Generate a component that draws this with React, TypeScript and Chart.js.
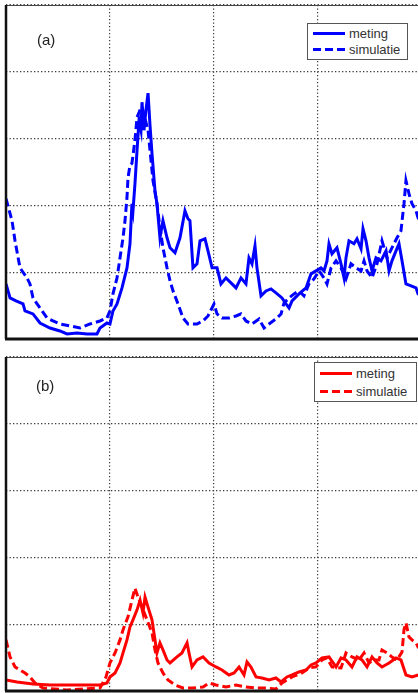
import React, { useEffect, useRef } from "react";
import { Chart, registerables } from "chart.js";

Chart.register(...registerables);

// Axis ranges (no tick labels are shown in the reference, only the grid)
const X_MIN = 0;
const X_MAX = 400;
const X_STEP = 100;
const Y_MIN = 0;
const Y_MAX = 100;
const Y_STEP = 20;

const SERIES_NAMES = ["meting", "simulatie"];
const PANEL_LABELS = ["(a)", "(b)"];

// Panel (a): meting (solid) [x, y]
const metingA: [number, number][] = [
  [0, 16.5], [3.9, 12.3], [9.6, 11.4], [16.4, 10.5], [18.3, 8.4], [26.0, 7.5], [32.8, 4.8],
  [42.4, 3.3], [52.0, 2.4], [58.8, 1.5], [68.4, 1.8], [78.1, 1.5], [87.7, 1.5], [90.6, 3.3],
  [97.3, 4.8], [100.2, 4.5], [103.1, 8.4], [107.0, 10.5], [111.8, 15.3], [116.6, 21.3],
  [119.5, 28.5], [121.4, 40.5], [122.4, 38.4], [124.3, 46.5], [126.3, 56.5], [128.2, 65.5],
  [130.1, 62.5], [131.1, 70.9], [133.0, 62.5], [134.9, 68.5], [136.9, 73.6], [138.8, 64.0],
  [140.7, 55.6], [143.6, 44.4], [145.5, 40.5], [148.4, 30.3], [151.3, 35.4], [155.2, 30.3],
  [158.1, 27.3], [162.9, 25.8], [167.7, 30.3], [172.5, 38.4], [175.4, 36.0], [177.3, 35.4],
  [180.2, 21.3], [184.1, 22.5], [187.0, 29.4], [191.8, 30.0], [194.7, 26.4], [198.6, 21.3],
  [203.4, 21.3], [207.2, 16.5], [212.0, 18.3], [217.8, 16.5], [221.7, 15.3], [226.5, 18.3],
  [231.3, 16.5], [234.2, 24.3], [237.1, 22.5], [240.0, 27.9], [241.9, 21.3], [245.8, 12.9],
  [250.6, 14.4], [255.4, 15.0], [260.2, 13.8], [266.0, 12.3], [269.9, 10.5], [272.8, 9.3],
  [275.7, 11.4], [282.4, 13.5], [289.2, 15.3], [294.0, 19.5], [298.8, 20.4], [303.6, 21.3],
  [306.5, 20.4], [309.4, 23.4], [311.3, 28.5], [314.2, 25.5], [319.0, 27.3], [322.9, 22.5],
  [325.8, 18.3], [327.7, 24.3], [330.6, 29.4], [335.4, 28.5], [338.3, 30.0], [342.2, 27.0],
  [344.1, 33.0], [347.0, 29.4], [349.9, 24.3], [352.8, 20.4], [356.6, 24.3], [361.4, 23.4],
  [366.3, 26.4], [369.2, 20.4], [372.0, 23.4], [375.9, 26.4], [378.8, 28.5], [381.7, 23.4],
  [385.5, 16.5], [390.4, 15.9], [395.2, 15.3], [397.1, 13.5], [400, 12.9],
];

// Panel (a): simulatie (dashed) [x, y]
const simulatieA: [number, number][] = [
  [0, 42.0], [5.8, 35.4], [8.7, 29.4], [13.5, 21.3], [20.2, 18.3], [23.1, 16.5], [26.0, 12.3],
  [32.8, 9.3], [39.5, 6.3], [45.3, 5.4], [52.0, 4.5], [61.7, 3.9], [71.3, 3.3], [81.0, 4.5],
  [90.6, 5.4], [97.3, 6.3], [100.2, 8.4], [103.1, 13.5], [107.0, 18.3], [109.9, 24.3],
  [112.8, 30.3], [114.7, 35.4], [116.6, 42.3], [117.6, 48.3], [119.5, 52.0], [121.4, 52.6],
  [124.3, 59.5], [126.3, 66.4], [129.2, 68.5], [131.1, 69.5], [134.0, 66.0], [136.9, 62.5],
  [138.8, 56.5], [141.7, 47.4], [145.5, 40.5], [148.4, 33.3], [151.3, 27.3], [155.2, 21.3],
  [158.1, 17.4], [161.0, 14.4], [165.8, 10.5], [170.6, 6.3], [175.4, 4.5], [184.1, 4.5],
  [189.9, 5.4], [194.7, 6.9], [200.5, 10.5], [203.4, 7.5], [208.2, 6.3], [214.9, 6.3],
  [221.7, 6.9], [226.5, 7.5], [231.3, 5.4], [237.1, 4.5], [243.9, 6.0], [248.7, 3.3],
  [253.5, 4.5], [260.2, 6.0], [265.1, 7.5], [268.0, 10.8], [272.8, 12.3], [277.6, 13.5],
  [282.4, 14.4], [287.2, 12.9], [292.0, 16.5], [296.9, 18.0], [301.7, 20.4], [306.5, 18.3],
  [309.4, 16.5], [313.3, 21.3], [318.1, 23.4], [322.9, 21.3], [327.7, 18.0], [332.5, 22.5],
  [337.3, 21.3], [342.2, 20.4], [345.1, 23.4], [348.0, 20.4], [352.8, 18.3], [357.6, 22.5],
  [362.4, 29.4], [367.2, 24.3], [372.0, 27.3], [376.9, 30.3], [380.7, 32.4], [383.6, 40.5],
  [385.5, 47.4], [388.4, 43.5], [391.3, 40.5], [395.2, 38.4], [397.1, 36.3], [400, 34.8],
];

// Panel (b): meting (solid) [x, y]
const metingB: [number, number][] = [
  [0, 3.3], [10.6, 2.7], [26.0, 2.1], [42.4, 1.8], [66.5, 1.8], [90.6, 1.8], [97.3, 2.4],
  [100.2, 4.2], [105.1, 5.4], [109.9, 8.4], [112.8, 11.4], [116.6, 15.3], [119.5, 19.2],
  [122.4, 21.3], [126.3, 24.3], [129.2, 27.2], [132.0, 23.4], [134.0, 28.1], [136.9, 25.1],
  [140.7, 21.3], [143.6, 15.3], [145.5, 11.4], [148.4, 14.4], [151.3, 12.3], [155.2, 9.3],
  [158.1, 8.4], [164.8, 10.2], [169.6, 11.4], [174.5, 14.4], [176.4, 11.4], [179.3, 7.2],
  [184.1, 9.3], [189.9, 10.2], [195.7, 8.4], [202.4, 7.2], [208.2, 6.3], [214.9, 4.8],
  [219.8, 5.4], [224.6, 7.2], [229.4, 4.8], [232.3, 8.7], [236.1, 7.2], [241.0, 4.2],
  [246.7, 3.9], [253.5, 3.3], [260.2, 3.9], [265.1, 2.7], [270.8, 4.2], [275.7, 4.8],
  [282.4, 5.7], [289.2, 6.3], [294.0, 7.8], [298.8, 8.4], [304.6, 9.9], [311.3, 10.2],
  [318.1, 7.2], [322.9, 9.9], [327.7, 9.3], [333.5, 7.2], [338.3, 10.2], [343.1, 9.3],
  [348.0, 7.2], [352.8, 10.2], [357.6, 8.4], [362.4, 7.2], [369.2, 8.4], [375.9, 9.9],
  [380.7, 9.3], [385.5, 4.8], [391.3, 4.2], [397.1, 4.8], [400, 4.5],
];

// Panel (b): simulatie (dashed) [x, y]
const simulatieB: [number, number][] = [
  [0, 15.3], [3.9, 10.2], [8.7, 7.2], [13.5, 6.3], [18.3, 5.4], [23.1, 4.2], [28.0, 2.4],
  [35.7, 0.9], [58.8, 0.3], [90.6, 0.9], [96.4, 4.2], [100.2, 8.4], [105.1, 11.4],
  [109.9, 15.3], [112.8, 18.3], [117.6, 22.2], [121.4, 27.2], [124.3, 30.8], [127.2, 28.1],
  [131.1, 25.1], [135.9, 21.3], [140.7, 17.4], [143.6, 12.3], [146.5, 8.4], [151.3, 5.4],
  [156.1, 3.3], [162.9, 1.8], [170.6, 0.9], [180.2, 0.9], [189.9, 1.2], [195.7, 2.4],
  [202.4, 1.8], [212.0, 1.2], [221.7, 1.8], [231.3, 1.2], [241.0, 0.9], [250.6, 0.9],
  [260.2, 0.6], [266.0, 2.4], [275.7, 4.2], [285.3, 5.4], [292.0, 6.9], [298.8, 7.2],
  [304.6, 9.3], [309.4, 9.9], [314.2, 7.2], [322.9, 6.9], [327.7, 11.4], [333.5, 10.2],
  [340.2, 9.3], [345.1, 11.4], [349.9, 8.4], [354.7, 9.3], [359.5, 9.3], [362.4, 12.3],
  [367.2, 11.4], [372.0, 10.2], [376.9, 9.3], [381.7, 11.7], [383.6, 18.3], [385.5, 20.4],
  [388.4, 16.2], [391.3, 15.3], [395.2, 14.4], [397.1, 13.2], [400, 12.3],
];

const BLUE = "#0000ff";
const RED = "#ff0000";

const framePlugin = {
  id: "matlabFrame",
  afterDatasetsDraw(chart: any) {
    const { ctx, chartArea } = chart;
    const { left, top, right, bottom } = chartArea;
    ctx.save();
    ctx.strokeStyle = "#444";
    ctx.lineWidth = 1.2;
    ctx.beginPath();
    ctx.moveTo(left, top + 0.5);
    ctx.lineTo(right, top + 0.5);
    ctx.stroke();
    ctx.strokeStyle = "#111";
    ctx.lineWidth = 2.5;
    ctx.beginPath();
    ctx.moveTo(left, top);
    ctx.lineTo(left, bottom);
    ctx.stroke();
    ctx.lineWidth = 3;
    ctx.beginPath();
    ctx.moveTo(left - 1, bottom);
    ctx.lineTo(right, bottom);
    ctx.stroke();
    ctx.restore();
  },
};

function makeChart(
  canvas: HTMLCanvasElement,
  color: string,
  meting: [number, number][],
  simulatie: [number, number][],
  padding: { left: number; top: number; right: number; bottom: number }
) {
  const toPts = (arr: [number, number][]) => arr.map(([x, y]) => ({ x, y }));
  const axis = (min: number, max: number, step: number) => ({
    type: "linear" as const,
    min,
    max,
    ticks: { display: false, stepSize: step },
    grid: { color: "#3a3a3a", lineWidth: 1.2, drawTicks: false },
    border: { display: false, dash: [1.3, 2.2] },
  });
  return new Chart(canvas, {
    type: "line",
    data: {
      datasets: [
        {
          label: SERIES_NAMES[0],
          data: toPts(meting),
          borderColor: color,
          borderWidth: 3,
          pointRadius: 0,
          tension: 0,
          fill: false,
        },
        {
          label: SERIES_NAMES[1],
          data: toPts(simulatie),
          borderColor: color,
          borderWidth: 3,
          borderDash: [8, 4],
          pointRadius: 0,
          tension: 0,
          fill: false,
        },
      ],
    },
    options: {
      animation: false,
      responsive: false,
      devicePixelRatio: 1,
      layout: { padding },
      plugins: { legend: { display: false }, tooltip: { enabled: false } },
      scales: {
        x: axis(X_MIN, X_MAX, X_STEP),
        y: axis(Y_MIN, Y_MAX, Y_STEP),
      },
    },
    plugins: [framePlugin],
  });
}

function Legend({ left, top, width, height, color }: any) {
  const row = (dashed: boolean, name: string) => (
    <div style={{ display: "flex", alignItems: "center", height: (height - 4) / 2 }}>
      <div
        style={{
          width: 32,
          height: 3,
          marginLeft: 5,
          marginRight: 4,
          background: dashed
            ? `repeating-linear-gradient(to right, ${color} 0px, ${color} 8px, transparent 8px, transparent 12px)`
            : color,
        }}
      />
      <span>{name}</span>
    </div>
  );
  return (
    <div
      style={{
        position: "absolute",
        left,
        top,
        width,
        height,
        boxSizing: "border-box",
        border: "1px solid #555",
        background: "#fff",
        fontFamily: '"Liberation Sans", Arial, sans-serif',
        fontSize: 13,
        color: "#333",
        paddingTop: 1,
        lineHeight: 1,
      }}
    >
      {row(false, SERIES_NAMES[0])}
      {row(true, SERIES_NAMES[1])}
    </div>
  );
}

export default function App() {
  const refA = useRef<HTMLCanvasElement>(null);
  const refB = useRef<HTMLCanvasElement>(null);

  useEffect(() => {
    const a = makeChart(refA.current!, BLUE, metingA, simulatieA, { left: 6, top: 5, right: 19, bottom: 6 });
    const b = makeChart(refB.current!, RED, metingB, simulatieB, { left: 6, top: 7, right: 19, bottom: 2 });
    return () => {
      a.destroy();
      b.destroy();
    };
  }, []);

  const labelStyle: React.CSSProperties = {
    position: "absolute",
    fontFamily: '"Liberation Sans", Arial, sans-serif',
    fontSize: 15,
    color: "#222",
    lineHeight: 1,
  };

  return (
    <div
      style={{
        position: "fixed",
        left: 0,
        top: 0,
        width: 418,
        height: 693,
        overflow: "hidden",
        background: "#fff",
      }}
    >
      <canvas ref={refA} width={440} height={345} style={{ position: "absolute", left: 0, top: 0 }} />
      <canvas ref={refB} width={440} height={343} style={{ position: "absolute", left: 0, top: 350 }} />
      <div style={{ ...labelStyle, left: 37, top: 32 }}>{PANEL_LABELS[0]}</div>
      <div style={{ ...labelStyle, left: 36, top: 378 }}>{PANEL_LABELS[1]}</div>
      <Legend left={307} top={23} width={101} height={37} color={BLUE} />
      <Legend left={314} top={362} width={103} height={40} color={RED} />
    </div>
  );
}
